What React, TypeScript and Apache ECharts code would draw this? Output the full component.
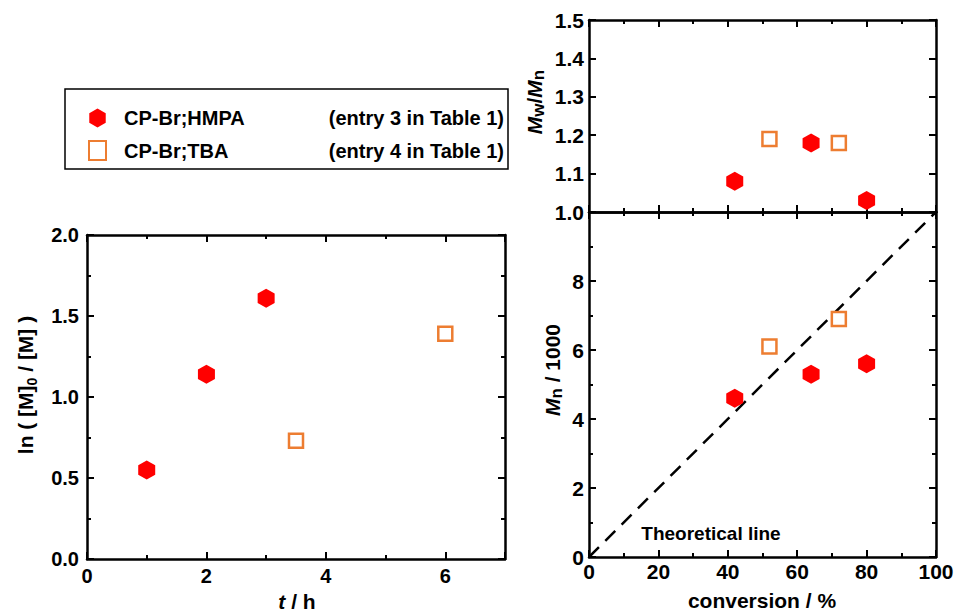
import React, { useEffect, useRef } from 'react';
import * as echarts from 'echarts';

// ---- data ----
const seriesNames = ['CP-Br;HMPA', 'CP-Br;TBA'];
const seriesEntries = ['(entry 3 in Table 1)', '(entry 4 in Table 1)'];

const hmpaTime = [1, 2, 3];
const hmpaLn = [0.55, 1.14, 1.61];
const tbaTime = [3.5, 6];
const tbaLn = [0.73, 1.39];

const hmpaConv = [42, 64, 80];
const hmpaPdi = [1.08, 1.18, 1.03];
const hmpaMn = [4.6, 5.3, 5.6];
const tbaConv = [52, 72];
const tbaPdi = [1.19, 1.18];
const tbaMn = [6.1, 6.9];

const theoryConv = [0, 100];
const theoryMn = [0, 10];

const FONT = "'Liberation Sans', Arial, sans-serif";
const RED = '#ff0000';
const ORANGE = '#ed7d31';
const HEX = 'path://M8.66,0 L17.32,5 L17.32,15 L8.66,20 L0,15 L0,5 Z';

const zip = (a: number[], b: number[]) => a.map((v, i) => [v, b[i]]);

function axis(opts: any) {
  const { labels, fontSize = 20, margin = 7, minor = 0, fmt, ...rest } = opts;
  return {
    type: 'value',
    axisLine: { show: true, onZero: false, lineStyle: { color: '#000', width: 2.5 } },
    axisTick: { show: true, inside: true, length: 7, lineStyle: { color: '#000', width: 2 } },
    minorTick: {
      show: minor > 0,
      splitNumber: minor || 5,
      length: 4,
      lineStyle: { color: '#000', width: 2 },
    },
    splitLine: { show: false },
    axisLabel: {
      show: !!labels,
      color: '#000',
      fontFamily: FONT,
      fontWeight: 'bold',
      fontSize,
      margin,
      showMaxLabel: opts.showMaxLabel,
      formatter: fmt,
    },
    ...rest,
  };
}

const hexStyle = { color: RED, opacity: 1 };
const sqStyle = { color: '#fff', borderColor: ORANGE, borderWidth: 2.5, opacity: 1 };

const option: any = {
  animation: false,
  backgroundColor: '#fff',
  grid: [
    { left: 87, top: 235, width: 418, height: 324 },
    { left: 589, top: 20, width: 347, height: 192 },
    { left: 589, top: 212, width: 347, height: 345 },
  ],
  xAxis: [
    axis({ gridIndex: 0, position: 'bottom', min: 0, max: 7, interval: 2, minor: 2, labels: true, margin: 7, showMaxLabel: false }),
    axis({ gridIndex: 0, position: 'top', min: 0, max: 7, interval: 2, minor: 2 }),
    axis({ gridIndex: 1, position: 'bottom', min: 0, max: 100, interval: 20, minor: 2 }),
    axis({ gridIndex: 1, position: 'top', min: 0, max: 100, interval: 20, minor: 2 }),
    axis({ gridIndex: 2, position: 'bottom', min: 0, max: 100, interval: 20, minor: 2, labels: true, fontSize: 21, margin: 4 }),
    axis({ gridIndex: 2, position: 'top', min: 0, max: 100, interval: 20, minor: 2 }),
  ],
  yAxis: [
    axis({ gridIndex: 0, position: 'left', min: 0, max: 2, interval: 0.5, minor: 2, labels: true, margin: 8, fmt: (v: number) => v.toFixed(1) }),
    axis({ gridIndex: 0, position: 'right', min: 0, max: 2, interval: 0.5, minor: 2 }),
    axis({ gridIndex: 1, position: 'left', min: 1, max: 1.5, interval: 0.1, labels: true, fontSize: 21, margin: 5, fmt: (v: number) => v.toFixed(1) }),
    axis({ gridIndex: 1, position: 'right', min: 1, max: 1.5, interval: 0.1 }),
    axis({ gridIndex: 2, position: 'left', min: 0, max: 10, interval: 2, minor: 2, labels: true, fontSize: 21, margin: 5, showMaxLabel: false }),
    axis({ gridIndex: 2, position: 'right', min: 0, max: 10, interval: 2, minor: 2 }),
  ],
  legend: {
    orient: 'vertical',
    left: 65,
    top: 89,
    padding: [19, 4, 8, 23],
    itemGap: 12,
    itemWidth: 17,
    itemHeight: 19,
    borderColor: '#000',
    borderWidth: 1.5,
    selectedMode: false,
    data: seriesNames,
    formatter: (name: string) => `{p| }{a|${name}}{b|${seriesEntries[seriesNames.indexOf(name)]}}`,
    textStyle: {
      rich: {
        p: { width: 13, fontSize: 20, lineHeight: 20 },
        a: { width: 200, fontSize: 20, fontWeight: 'bold', fontFamily: FONT, color: '#000', lineHeight: 20 },
        b: { width: 180, align: 'right', fontSize: 20, fontWeight: 'bold', fontFamily: FONT, color: '#000', lineHeight: 20 },
      },
    },
  },
  series: [
    { name: seriesNames[0], type: 'scatter', xAxisIndex: 0, yAxisIndex: 0, symbol: HEX, symbolSize: [17, 19], itemStyle: hexStyle, data: zip(hmpaTime, hmpaLn) },
    { name: seriesNames[1], type: 'scatter', xAxisIndex: 0, yAxisIndex: 0, symbol: 'rect', symbolSize: 14, itemStyle: sqStyle, data: zip(tbaTime, tbaLn) },
    { name: seriesNames[0], type: 'scatter', xAxisIndex: 2, yAxisIndex: 2, symbol: HEX, symbolSize: [17, 19], itemStyle: hexStyle, data: zip(hmpaConv, hmpaPdi) },
    { name: seriesNames[1], type: 'scatter', xAxisIndex: 2, yAxisIndex: 2, symbol: 'rect', symbolSize: 14, itemStyle: sqStyle, data: zip(tbaConv, tbaPdi) },
    { name: 'theory', type: 'line', xAxisIndex: 4, yAxisIndex: 4, showSymbol: false, symbol: 'none', lineStyle: { color: '#000', width: 2.5, type: [14, 9] }, data: zip(theoryConv, theoryMn), z: 1 },
    { name: seriesNames[0], type: 'scatter', xAxisIndex: 4, yAxisIndex: 4, symbol: HEX, symbolSize: [17, 19], itemStyle: hexStyle, data: zip(hmpaConv, hmpaMn) },
    { name: seriesNames[1], type: 'scatter', xAxisIndex: 4, yAxisIndex: 4, symbol: 'rect', symbolSize: 14, itemStyle: sqStyle, data: zip(tbaConv, tbaMn) },
  ],
  graphic: [
    {
      type: 'text', x: 25, y: 385, rotation: Math.PI / 2,
      style: {
        text: '{n|ln ( [M]}{s|0}{n| / [M] )}',
        align: 'center', verticalAlign: 'middle', fill: '#000',
        rich: {
          n: { fontSize: 21, fontWeight: 'bold', fontFamily: FONT, fill: '#000', lineHeight: 28 },
          s: { fontSize: 14, fontWeight: 'bold', fontFamily: FONT, fill: '#000', lineHeight: 28, verticalAlign: 'bottom' },
        },
      },
    },
    {
      type: 'text', x: 297, y: 601,
      style: {
        text: '{i|t}{n| / h}', align: 'center', verticalAlign: 'middle', fill: '#000',
        rich: {
          i: { fontSize: 21, fontWeight: 'bold', fontStyle: 'italic', fontFamily: FONT, fill: '#000' },
          n: { fontSize: 21, fontWeight: 'bold', fontFamily: FONT, fill: '#000' },
        },
      },
    },
    {
      type: 'text', x: 762, y: 600,
      style: { text: 'conversion / %', align: 'center', verticalAlign: 'middle', fill: '#000', fontSize: 21, fontWeight: 'bold', fontFamily: FONT },
    },
    {
      type: 'text', x: 534, y: 102, rotation: Math.PI / 2,
      style: {
        text: '{i|M}{s|w}{n|/}{i|M}{s|n}', align: 'center', verticalAlign: 'middle', fill: '#000',
        rich: {
          i: { fontSize: 21, fontWeight: 'bold', fontStyle: 'italic', fontFamily: FONT, fill: '#000', lineHeight: 26 },
          n: { fontSize: 21, fontWeight: 'bold', fontFamily: FONT, fill: '#000', lineHeight: 26 },
          s: { fontSize: 17, fontWeight: 'bold', fontFamily: FONT, fill: '#000', lineHeight: 26, verticalAlign: 'bottom' },
        },
      },
    },
    {
      type: 'text', x: 552, y: 370, rotation: Math.PI / 2,
      style: {
        text: '{i|M}{s|n}{n| / 1000}', align: 'center', verticalAlign: 'middle', fill: '#000',
        rich: {
          i: { fontSize: 21, fontWeight: 'bold', fontStyle: 'italic', fontFamily: FONT, fill: '#000', lineHeight: 26 },
          n: { fontSize: 21, fontWeight: 'bold', fontFamily: FONT, fill: '#000', lineHeight: 26 },
          s: { fontSize: 17, fontWeight: 'bold', fontFamily: FONT, fill: '#000', lineHeight: 26, verticalAlign: 'bottom' },
        },
      },
    },
    {
      type: 'text', x: 711, y: 533,
      style: { text: 'Theoretical line', align: 'center', verticalAlign: 'middle', fill: '#000', fontSize: 19, fontWeight: 'bold', fontFamily: FONT },
    },
  ],
};

export default function App() {
  const ref = useRef<HTMLDivElement>(null);
  useEffect(() => {
    const chart = echarts.init(ref.current!, null, { renderer: 'svg' });
    chart.setOption(option);
    return () => chart.dispose();
  }, []);
  return <div ref={ref} style={{ position: 'fixed', left: 0, top: 0, width: 957, height: 612 }} />;
}
